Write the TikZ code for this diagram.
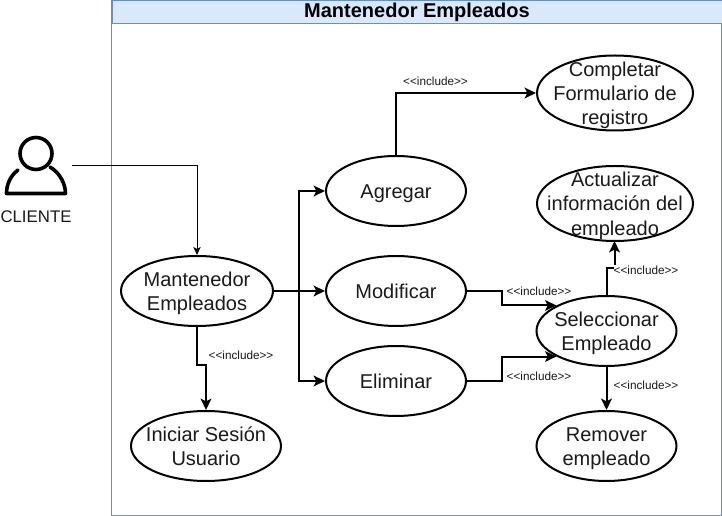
\documentclass[tikz,border=0pt]{standalone}
\usepackage{fontspec}
\setmainfont{Liberation Sans}
\usetikzlibrary{arrows.meta,shapes.geometric}
\definecolor{txt}{HTML}{1A1A1A}
\definecolor{frame}{HTML}{6C8EBF}
\definecolor{head}{HTML}{DAE8FC}
\newcommand{\incltext}{{<}{<}include{>}{>}}
\tikzset{
  usecase/.style={ellipse,draw=black,line width=1.5pt,fill=white,inner sep=-30pt,align=center,text=txt,font=\fontsize{15}{18.2}\selectfont,execute at begin node={\rule[-3.5pt]{0pt}{#1+3.5pt}}},
  usecase/.default=14.5pt,
  flow/.style={draw=black,line width=1.5pt,-{Stealth[length=8.5pt,width=8pt,inset=2pt]}},
  thin flow/.style={draw=black,line width=0.75pt,-{Stealth[length=6pt,width=5.5pt,inset=1.5pt]}},
  incl/.style={inner sep=0pt,font=\fontsize{8.8}{10}\selectfont,text=txt},
  wh/.style={incl,fill=white,inner ysep=1pt,inner xsep=0pt}
}
\newlength{\ucA}\setlength{\ucA}{33pt}
\newlength{\ucB}\setlength{\ucB}{51pt}
\renewcommand{\rule}[3][0pt]{\raisebox{#1}{\vrule width #2 height \dimexpr#3\relax depth 0pt}}
\begin{document}
\begin{tikzpicture}[x=0.75pt,y=-0.75pt]
\useasboundingbox (0,0) rectangle (722,516);
\fill[white] (0,0) rectangle (722,516);
% boundary
\draw[frame,line width=0.75pt] (111.5,0.5) rectangle (721.5,515.5);
\node[draw=frame,fill=head,line width=0.75pt,minimum width=457.5pt,minimum height=17.25pt,inner sep=0pt,anchor=north west,font=\fontsize{15}{16}\selectfont\bfseries,text=black] (title) at (111.5,0.5) {Mantenedor Empleados};
% actor
\draw[black,line width=2.7pt] (36,153.5) circle (16);
\draw[black,line width=2.7pt,line join=round,line cap=round] (18,170) .. controls (10,176) and (6.5,185) .. (6.5,193.5) -- (65.5,193.5) .. controls (65.5,184) and (60,173) .. (50,167);
\coordinate (actor) at (72,165.5);
\node[inner sep=0pt,font=\fontsize{12.6}{14}\selectfont,text=txt] (cliente) at (36,217) {CLIENTE};
% use cases
\node[usecase=33pt,minimum width=114pt,minimum height=52.5pt] (mant) at (197,291) {Mantenedor\\Empleados};
\node[usecase=33pt,minimum width=112.5pt,minimum height=52.5pt] (login) at (206,446) {Iniciar Sesión\\Usuario};
\node[usecase,minimum width=105pt,minimum height=52.5pt] (agregar) at (396,191) {Agregar};
\node[usecase,minimum width=105pt,minimum height=52.5pt] (modificar) at (396,291) {Modificar};
\node[usecase,minimum width=105pt,minimum height=52.5pt] (eliminar) at (396,381) {Eliminar};
\node[usecase=51pt,minimum width=117pt,minimum height=56.25pt] (completar) at (615,93) {Completar\\Formulario de\\registro};
\node[usecase=51pt,minimum width=117pt,minimum height=56.25pt] (actualizar) at (615,203.5) {Actualizar\\información del\\empleado};
\node[usecase=33pt,minimum width=105pt,minimum height=52.5pt] (selec) at (606.5,331) {Seleccionar\\Empleado};
\node[usecase=33pt,minimum width=105pt,minimum height=52.5pt] (remover) at (606.5,446) {Remover\\empleado};
% connectors
\draw[thin flow] (actor) -- (mant.north |- actor) -- (mant.north);
\draw[flow] (mant.east) -- (299,291) |- (agregar.west);
\draw[flow] (mant.east) -- (modificar.west);
\draw[flow] (mant.east) -- (299,291) |- (eliminar.west);
\draw[flow] (mant.south) -- (197,365.5) -| (login.north);
\draw[flow] (agregar.north) |- (completar.west);
\draw[flow] (modificar.east) -- (501.5,291) |- (selec.153);
\draw[flow] (eliminar.east) -- (501.5,381) |- (selec.207);
\draw[flow] (selec.north) |- (614.5,268) -- (614.5,241);
\draw[flow] (selec.south) -- (remover.north);
% labels
\node[incl] (l1) at (435.5,81) {\incltext};
\node[incl] (l2) at (539,291) {\incltext};
\node[incl] (l3) at (539,376.5) {\incltext};
\node[wh] (l4) at (646,270.5) {\incltext};
\node[incl] (l5) at (646,385.5) {\incltext};
\node[incl] (l6) at (241,355.5) {\incltext};
\end{tikzpicture}
\end{document}
